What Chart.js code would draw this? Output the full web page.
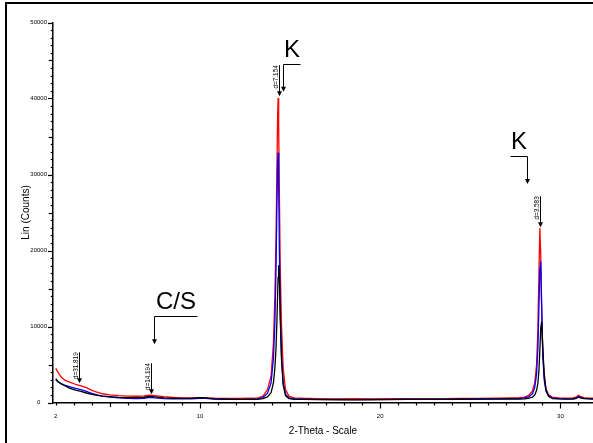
<!DOCTYPE html>
<html>
<head>
<meta charset="utf-8">
<title>XRD pattern</title>
<script src="https://cdn.jsdelivr.net/npm/chart.js@4.4.1/dist/chart.umd.min.js"></script>
<style>
  html, body { margin: 0; padding: 0; background: #fff; overflow: hidden; }
  #wrap { position: relative; width: 593px; height: 443px; overflow: hidden; }
  #frame { position: absolute; left: 5px; top: 2px; width: 700px; height: 600px;
           border-left: 2px solid #000; border-top: 2px solid #000; }
  canvas { position: absolute; left: 0; top: 0; }
</style>
</head>
<body>
<div id="wrap">
  <div id="frame"></div>
  <canvas id="xrd" width="593" height="443"></canvas>
</div>
<script>
// 2-theta positions of the scan points (degrees)
const theta = [
  2.0, 2.15, 2.3, 2.5, 2.8, 3.1, 3.4, 3.7, 4.0, 4.3, 4.6, 5.0, 5.5, 6.0, 6.5, 6.9, 7.2, 7.5, 8.0, 8.5,
  9.0, 9.5, 10.0, 10.3, 10.8, 11.5, 12.2, 12.8,
  13.2, 13.5, 13.75, 13.95, 14.08, 14.16, 14.22, 14.27, 14.31, 14.34, 14.37, 14.41, 14.46, 14.53,
  14.62, 14.75, 14.95, 15.25, 15.7,
  16.5, 17.5, 18.5, 19.5, 20.5, 21.5, 22.5, 23.5, 24.5, 25.5, 26.5, 27.2,
  27.7, 28.0, 28.25, 28.45, 28.58, 28.68, 28.75, 28.81, 28.86, 28.91, 28.96, 29.02, 29.1, 29.2,
  29.35, 29.55, 29.9,
  30.3, 30.7, 30.9, 31.0, 31.1, 31.3, 31.6, 31.85
];

// counts per scan
const countsRed = [
  4500, 3900, 3350, 2950, 2650, 2400, 2200, 1950, 1600, 1350, 1150, 1000, 900, 850, 820, 880, 980, 900, 760, 680,
  620, 600, 640, 620, 560, 530, 530, 560,
  580, 850, 1700, 3500, 7800, 14000, 21000, 30000, 37500, 40000, 36500, 27500, 17500, 10000,
  4500, 1700, 800, 620, 560,
  520, 490, 500, 480, 500, 510, 500, 520, 530, 540, 560, 600,
  640, 720, 950, 1500, 2600, 5000, 9500, 17000, 22900, 19500, 12500, 6800, 3500, 1800,
  1000, 720, 620,
  580, 600, 750, 950, 820, 640, 580, 560
];
const countsBlue = [
  3000, 2700, 2500, 2300, 2050, 1870, 1700, 1450, 1200, 1000, 850, 720, 620, 560, 520, 560, 680, 600, 520, 480,
  470, 480, 560, 540, 460, 430, 420, 440,
  480, 650, 1200, 2600, 5800, 10500, 17000, 25500, 31500, 32800, 29000, 20000, 11500, 6000,
  2600, 1100, 600, 480, 450,
  420, 400, 390, 400, 420, 430, 430, 440, 450, 460, 480, 500,
  520, 600, 750, 1150, 2000, 3800, 7000, 12500, 17500, 18500, 13000, 6500, 3000, 1500,
  850, 600, 520,
  480, 500, 620, 800, 700, 540, 500, 480
];
const countsBlack = [
  3150, 2700, 2450, 2200, 1850, 1640, 1450, 1250, 1080, 950, 840, 760, 680, 650, 630, 690, 800, 740, 620, 560,
  530, 540, 640, 620, 480, 430, 420, 420,
  420, 500, 750, 1300, 2600, 4500, 7000, 10500, 14000, 16500, 18000, 16500, 11000, 5500,
  2300, 900, 500, 420, 400,
  380, 360, 350, 360, 390, 400, 410, 420, 430, 440, 450, 460,
  450, 480, 560, 700, 1000, 1600, 2500, 4200, 6800, 9800, 10600, 7500, 3800, 1700,
  800, 520, 470,
  440, 460, 560, 700, 620, 500, 470, 450
];

const xTickLabels = [2, 10, 20, 30];
const yTickLabels = [0, 10000, 20000, 30000, 40000, 50000];

// d-spacing markers: 2-theta, counts at the arrow tip, text
const peakMarkTheta = [3.3, 7.27, 14.38, 28.88];
const peakMarkCounts = [2530, 1080, 40300, 23050];
const peakMarkText = ['d=31.819', 'd=14.194', 'd=7.154', 'd=3.583'];

// phase labels: text, 2-theta the arrow points at, counts at the arrow tip
const phaseText = ['C/S', 'K', 'K'];
const phaseTheta = [7.455, 14.63, 28.14];
const phaseTip = [7660, 40900, 28750];

const FONT = '"Liberation Sans", Arial, sans-serif';

function seg(ctx, x1, y1, x2, y2) {
  ctx.beginPath();
  ctx.moveTo(x1, y1);
  ctx.lineTo(x2, y2);
  ctx.stroke();
}

function arrowHead(ctx, x, tip) {
  ctx.beginPath();
  ctx.moveTo(x - 2.5, tip - 5);
  ctx.lineTo(x + 2.5, tip - 5);
  ctx.lineTo(x, tip);
  ctx.closePath();
  ctx.fill();
}

// minor ticks, d markers and phase labels
const xrdDecor = {
  id: 'xrdDecor',
  afterDraw(chart, args, opts) {
    const {ctx, chartArea: area, scales: {x, y}} = chart;
    ctx.save();
    ctx.strokeStyle = '#000';
    ctx.fillStyle = '#000';
    ctx.lineWidth = 1.2;

    for (let t = 2; t <= 31; t++) {
      const px = Math.round(x.getPixelForValue(t)) + 0.5;
      const len = t % 10 === 0 ? 6 : t % 5 === 0 ? 4.5 : 3;
      seg(ctx, px, area.bottom, px, area.bottom + len);
    }
    for (let c = 0; c <= 50000; c += 1000) {
      const py = Math.round(y.getPixelForValue(c)) + 0.5;
      const len = c % 10000 === 0 ? 5 : c % 5000 === 0 ? 4.3 : 2.3;
      seg(ctx, area.left - len, py, area.left, py);
    }

    ctx.lineWidth = 1;
    peakMarkTheta.forEach((t, i) => {
      const px = Math.round(x.getPixelForValue(t)) + 0.5;
      const tip = y.getPixelForValue(peakMarkCounts[i]);
      const top = tip - opts.markLength;
      seg(ctx, px, top, px, tip - 4);
      arrowHead(ctx, px, tip);
      ctx.save();
      ctx.translate(px - 1.5, top);
      ctx.rotate(-Math.PI / 2);
      ctx.font = '6.4px ' + FONT;
      ctx.textAlign = 'right';
      ctx.textBaseline = 'alphabetic';
      ctx.fillText(peakMarkText[i], 0, 0);
      ctx.restore();
    });

    phaseText.forEach((txt, i) => {
      const px = Math.round(x.getPixelForValue(phaseTheta[i])) + 0.5;
      const tip = y.getPixelForValue(phaseTip[i]);
      const barY = Math.round(tip - opts.stem) + 0.5;
      const bx = px + opts.bar[i];
      ctx.beginPath();
      ctx.moveTo(bx, barY);
      ctx.lineTo(px, barY);
      ctx.lineTo(px, tip - 4);
      ctx.stroke();
      arrowHead(ctx, px, tip);
      ctx.font = '24px ' + FONT;
      ctx.textAlign = 'center';
      ctx.textBaseline = 'alphabetic';
      ctx.fillText(txt, (px + bx) / 2, barY - 7.5);
    });
    ctx.restore();
  }
};

const series = (counts, color) => ({
  data: theta.map((t, i) => ({x: t, y: counts[i]})),
  borderColor: color,
  borderWidth: 1.3,
  borderJoinStyle: 'round',
  pointRadius: 0,
  tension: 0,
  fill: false
});

new Chart(document.getElementById('xrd'), {
  type: 'line',
  data: {
    datasets: [
      series(countsBlack, '#000000'),
      series(countsBlue, '#0000ff'),
      series(countsRed, '#ff0000')
    ]
  },
  options: {
    responsive: false,
    animation: false,
    layout: {padding: {top: 22.5, left: 0, right: 0, bottom: 0}, autoPadding: false},
    plugins: {
      legend: {display: false},
      tooltip: {enabled: false},
      xrdDecor: {markLength: 31, stem: 28, bar: [43, 17, -17]}
    },
    scales: {
      x: {
        type: 'linear',
        min: 1.85,
        max: 31.81,
        afterFit: s => { s.height = 40.5; },
        afterBuildTicks: s => { s.ticks = xTickLabels.map(v => ({value: v})); },
        grid: {display: false, drawTicks: false},
        border: {display: true, color: '#000', width: 1.5},
        ticks: {font: {family: FONT, size: 6}, color: '#000', padding: 10, maxRotation: 0, autoSkip: false,
                callback: v => String(v)},
        title: {display: true, text: '2-Theta - Scale', color: '#000',
                font: {family: FONT, size: 10}, padding: {top: 0, bottom: 6}}
      },
      y: {
        type: 'linear',
        min: 0,
        max: 50000,
        afterFit: s => { s.width = 53; },
        afterBuildTicks: s => { s.ticks = yTickLabels.map(v => ({value: v})); },
        grid: {display: false, drawTicks: false},
        border: {display: true, color: '#000', width: 1.5},
        ticks: {font: {family: FONT, size: 6}, color: '#000', padding: 6, crossAlign: 'center', autoSkip: false,
                callback: v => String(v)},
        title: {display: true, text: 'Lin (Counts)', color: '#000',
                font: {family: FONT, size: 10}, padding: {top: 20.5, bottom: 0}}
      }
    }
  },
  plugins: [xrdDecor]
});
</script>
</body>
</html>
